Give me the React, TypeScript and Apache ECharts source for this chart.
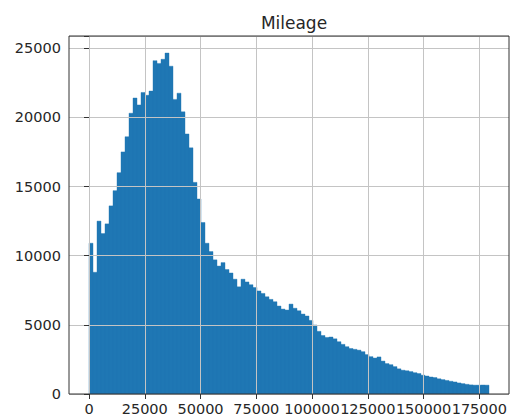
import React, { useEffect, useRef } from "react";
import * as echarts from "echarts";

const TITLE = "Mileage";
const BIN_MIN = 0;
const BIN_MAX = 178000;
const COUNTS = [
  10900, 8800, 12500, 11600, 12300, 13600, 14700, 16000, 17500, 18600,
  20300, 21400, 20900, 21800, 21600, 21900, 24100, 23900, 24200, 24650,
  23700, 21300, 21750, 20400, 18800, 17800, 15300, 14100, 12400, 10900,
  10300, 9700, 9250, 9500, 9000, 8750, 8300, 7750, 8300, 8100,
  7900, 7700, 7450, 7270, 7030, 6840, 6670, 6360, 6140, 6070,
  6500, 6200, 6020, 5780, 5640, 5320, 4990, 4530, 4230, 4090,
  4120, 3990, 3780, 3590, 3420, 3290, 3230, 3170, 3060, 2850,
  2700, 2600, 2680, 2380, 2200, 2120, 1980, 1820, 1720, 1680,
  1620, 1540, 1480, 1360, 1300, 1230, 1190, 1100, 1040, 980,
  920, 870, 800, 750, 700, 660, 640, 640, 650, 640,
];
const X_TICK_MIN = 0;
const X_TICK_MAX = 175000;
const X_TICK_STEP = 25000;
const Y_TICK_STEP = 5000;

const FONT = "DejaVu Sans";
const BAR_COLOR = "#1f77b4";
const GRID_COLOR = "#c4c4c4";
const TEXT_COLOR = "#262626";

export default function App() {
  const ref = useRef<HTMLDivElement>(null);
  useEffect(() => {
    if (!ref.current) return;
    const chart = echarts.init(ref.current, undefined, { renderer: "svg" });
    const n = COUNTS.length;
    const w = (BIN_MAX - BIN_MIN) / n;
    const range = BIN_MAX - BIN_MIN;
    const xMin = BIN_MIN - range * 0.05;
    const xMax = BIN_MAX + range * 0.05;
    const yMax = Math.max(...COUNTS) * 1.05;
    const data = COUNTS.map((c, i) => [BIN_MIN + i * w, BIN_MIN + (i + 1) * w, c]);

    const gridTop = 36;
    const gridBottom = 25;
    const gridLeft = 69;
    const gridRight = 1;
    const plotW = 510 - gridLeft - gridRight;
    const pxPer = plotW / (xMax - xMin);
    const tickLeft = gridLeft + (X_TICK_MIN - xMin) * pxPer;
    const tickRight = 510 - (gridLeft + (X_TICK_MAX - xMin) * pxPer);

    chart.setOption({
      animation: false,
      title: {
        text: TITLE,
        left: gridLeft + plotW / 2,
        textAlign: "center",
        top: 9,
        textStyle: { fontFamily: FONT, fontSize: 17, fontWeight: "normal", color: TEXT_COLOR },
      },
      grid: [
        {
          left: gridLeft,
          right: gridRight,
          top: gridTop,
          bottom: gridBottom,
          show: true,
          z: 10,
          borderColor: "#333",
          borderWidth: 1,
          backgroundColor: "transparent",
        },
        {
          left: tickLeft,
          right: tickRight,
          top: gridTop,
          bottom: gridBottom,
        },
      ],
      xAxis: [
        { type: "value", gridIndex: 0, min: xMin, max: xMax, show: false },
        {
          type: "value",
          gridIndex: 1,
          min: X_TICK_MIN,
          max: X_TICK_MAX,
          interval: X_TICK_STEP,
          z: 5,
          axisLine: { show: false },
          axisTick: { show: true, length: 5, lineStyle: { color: "#333" } },
          axisLabel: {
            margin: 7,
            fontFamily: FONT,
            fontSize: 14.5,
            color: TEXT_COLOR,
            showMinLabel: true,
            showMaxLabel: true,
            hideOverlap: false,
            formatter: (v: number) => String(v),
          },
          splitLine: { show: true, lineStyle: { color: GRID_COLOR, width: 1 } },
        },
      ],
      yAxis: [
        {
          type: "value",
          gridIndex: 0,
          min: 0,
          max: yMax,
          interval: Y_TICK_STEP,
          z: 5,
          axisLine: { show: false },
          axisTick: { show: true, length: 5, lineStyle: { color: "#333" } },
          axisLabel: {
            margin: 8,
            fontFamily: FONT,
            fontSize: 14.5,
            color: TEXT_COLOR,
            formatter: (v: number) => (v % Y_TICK_STEP === 0 ? String(v) : ""),
          },
          splitLine: { show: true, lineStyle: { color: GRID_COLOR, width: 1 } },
        },
        { type: "value", gridIndex: 1, min: 0, max: 1, show: false },
      ],
      series: [
        {
          type: "custom",
          xAxisIndex: 0,
          yAxisIndex: 0,
          data,
          renderItem: (params: any, api: any) => {
            const p0 = api.coord([api.value(0), 0]);
            const p1 = api.coord([api.value(1), api.value(2)]);
            return {
              type: "rect",
              shape: { x: p0[0], y: p1[1], width: p1[0] - p0[0], height: p0[1] - p1[1] },
              style: { fill: BAR_COLOR, stroke: BAR_COLOR, lineWidth: 0.4 },
            };
          },
        },
      ],
    });
    return () => chart.dispose();
  }, []);
  return (
    <div
      ref={ref}
      style={{ position: "fixed", left: 0, top: 0, width: 510, height: 419, background: "#fff" }}
    />
  );
}
